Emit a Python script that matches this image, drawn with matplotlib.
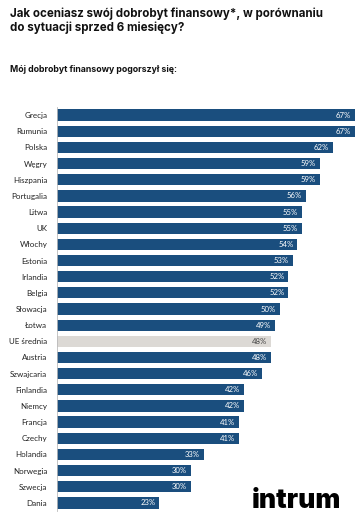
import matplotlib.pyplot as plt
import numpy as np

countries = ['Grecja', 'Rumunia', 'Polska', 'Węgry', 'Hiszpania', 'Portugalia',
             'Litwa', 'UK', 'Włochy', 'Estonia', 'Irlandia', 'Belgia',
             'Słowacja', 'Łotwa', 'UE średnia', 'Austria', 'Szwajcaria',
             'Finlandia', 'Niemcy', 'Francja', 'Czechy', 'Holandia',
             'Norwegia', 'Szwecja', 'Dania']
values = [67, 67, 62, 59, 59, 56, 55, 55, 54, 53, 52, 52, 50, 49, 48, 48, 46,
          42, 42, 41, 41, 33, 30, 30, 23]
highlight = 'UE średnia'

blue = '#1a4e7e'
grey = '#dcd9d5'

fig = plt.figure(figsize=(3.6, 5.25), dpi=100)

fig.text(10 / 360, 1 - 8 / 525,
         'Jak oceniasz swój dobrobyt finansowy*, w porównaniu\ndo sytuacji sprzed 6 miesięcy?',
         family='Inter', weight='bold', fontsize=8.3, va='top', ha='left',
         linespacing=1.15, color='#111111')
fig.text(10 / 360, 1 - 70 / 525, 'Mój dobrobyt finansowy pogorszył się:',
         family='Inter', weight='bold', fontsize=6.3, va='center', ha='left',
         color='#111111')

ax = fig.add_axes([57 / 360, 1 - 511 / 525, 300 / 360, 404 / 525])
y = np.arange(len(countries))
colors = [grey if c == highlight else blue for c in countries]
ax.barh(y, values, height=0.7, color=colors)

for yi, v, c in zip(y, values, countries):
    tc = '#444444' if c == highlight else 'white'
    ax.text(v - 0.9, yi, f'{v}%', ha='right', va='center', fontsize=5.6,
            family='Lato', color=tc)

ax.set_yticks(y)
ax.set_yticklabels(countries, family='Lato', fontsize=5.8, color='#222222')
ax.tick_params(axis='y', length=0, pad=7)
ax.set_ylim(len(countries) - 0.5, -0.5)
ax.set_xlim(0, 67.4)
ax.set_xticks([])
for s in ['top', 'right', 'bottom']:
    ax.spines[s].set_visible(False)
ax.spines['left'].set_color('#bbbbbb')
ax.spines['left'].set_linewidth(0.6)

fig.text(296 / 360, 1 - 501 / 525, 'intrum', family='Inter', weight='black',
         fontsize=19, ha='center', va='center', color='black')

fig.savefig('out.png', dpi=100)
